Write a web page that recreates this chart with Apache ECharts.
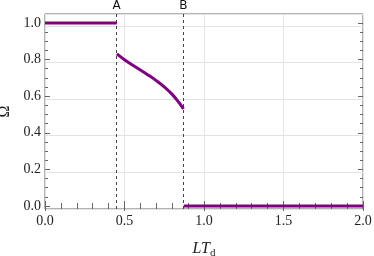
<!DOCTYPE html>
<html>
<head>
<meta charset="utf-8">
<script src="https://cdn.jsdelivr.net/npm/echarts@6/dist/echarts.min.js"></script>
<style>html,body{margin:0;padding:0;background:#fff}#c{width:374px;height:256px}</style>
</head>
<body>
<div id="c"></div>
<script>
// Data
const leftX = [0, 0.452];
const leftY = [1, 1];
const curveX = [0.452, 0.50, 0.55, 0.60, 0.65, 0.70, 0.75, 0.80, 0.84, 0.871];
const curveY = [0.831, 0.799, 0.770, 0.743, 0.715, 0.685, 0.651, 0.610, 0.568, 0.530];
const rightX = [0.873, 2];
const rightY = [0, 0];
const markers = [{name: 'A', x: 0.452}, {name: 'B', x: 0.873}];
const yMajor = [0, 0.2, 0.4, 0.6, 0.8, 1.0];
const yMinor = [0.05, 0.1, 0.15, 0.25, 0.3, 0.35, 0.45, 0.5, 0.55, 0.65, 0.7, 0.75, 0.85, 0.9, 0.95];

const zip = (xs, ys) => xs.map((x, i) => [x, ys[i]]);
const purple = '#800080';
const tickColor = '#666';
const serif = 'Liberation Serif';
const Y_MIN = -0.0164, Y_MAX = 1.049;

function yAxisDef(pos, values, len, labels) {
  return {
    type: 'value', position: pos, min: Y_MIN, max: Y_MAX,
    axisLine: {show: false},
    axisTick: {show: true, inside: true, length: len, customValues: values, lineStyle: {color: tickColor}},
    axisLabel: labels ? {show: true, customValues: values, fontFamily: serif, fontSize: 14, color: '#222', margin: 4,
      formatter: v => Number(v).toFixed(1)} : {show: false},
    splitLine: {show: false}
  };
}

const chart = echarts.init(document.getElementById('c'));
chart.setOption({
  animation: false,
  backgroundColor: '#fff',
  textStyle: {fontFamily: serif},
  grid: {left: 45, top: 14, width: 318, height: 195, outerBoundsMode: 'none', containLabel: false,
    show: true, borderColor: '#666', borderWidth: 1, backgroundColor: 'transparent'},
  xAxis: [
    {
      type: 'value', position: 'bottom', min: 0, max: 2, interval: 0.5,
      axisLine: {show: false},
      axisTick: {show: true, inside: true, length: 5, lineStyle: {color: tickColor}},
      minorTick: {show: true, splitNumber: 5, length: 3, lineStyle: {color: tickColor}},
      axisLabel: {fontFamily: serif, fontSize: 14, color: '#222', margin: 5, formatter: v => v.toFixed(1)},
      splitLine: {show: true, lineStyle: {color: '#e3e3e3', width: 1}},
      name: '{a|LT}{b|d}', nameLocation: 'middle', nameGap: 30,
      nameTextStyle: {
        rich: {
          a: {fontFamily: serif, fontStyle: 'italic', fontSize: 16, color: '#222'},
          b: {fontFamily: serif, fontSize: 11, color: '#222', padding: [9, 0, 0, 0]}
        }
      }
    },
    {
      type: 'value', position: 'top', min: 0, max: 2, interval: 0.5,
      axisLine: {show: false},
      axisTick: {show: true, inside: true, length: 5, lineStyle: {color: tickColor}},
      minorTick: {show: true, splitNumber: 5, length: 3, lineStyle: {color: tickColor}},
      axisLabel: {show: false},
      splitLine: {show: false}
    }
  ],
  yAxis: [
    Object.assign(yAxisDef('left', yMajor, 5, true), {
      name: 'Ω', nameLocation: 'middle', nameGap: 28,
      nameTextStyle: {fontFamily: serif, fontSize: 16, color: '#222'}
    }),
    yAxisDef('left', yMinor, 3, false),
    yAxisDef('right', yMajor, 5, false),
    yAxisDef('right', yMinor, 3, false),
    {
      type: 'value', position: 'left', min: Y_MIN, max: Y_MAX, interval: 0.2,
      axisLine: {show: false}, axisTick: {show: false}, axisLabel: {show: false},
      splitLine: {show: true, lineStyle: {color: '#e3e3e3', width: 1}}
    }
  ],
  series: [
    {
      type: 'line', xAxisIndex: 0, yAxisIndex: 0, data: zip(leftX, leftY), showSymbol: false,
      lineStyle: {color: purple, width: 3}, z: 5,
      markLine: {
        silent: true, symbol: 'none',
        lineStyle: {color: '#444', width: 1, type: [3, 3]},
        label: {show: true, position: 'end', formatter: p => p.name, fontFamily: 'DejaVu Sans', fontSize: 12, color: '#111', distance: 2},
        data: markers.map(m => ({name: m.name, xAxis: m.x}))
      }
    },
    {
      type: 'line', xAxisIndex: 0, yAxisIndex: 0, data: zip(curveX, curveY), showSymbol: false,
      smooth: 0.4,
      lineStyle: {color: purple, width: 3}, z: 5
    },
    {
      type: 'line', xAxisIndex: 0, yAxisIndex: 0, data: zip(rightX, rightY), showSymbol: false,
      lineStyle: {color: purple, width: 3}, z: 5
    }
  ]
});
</script>
</body>
</html>
